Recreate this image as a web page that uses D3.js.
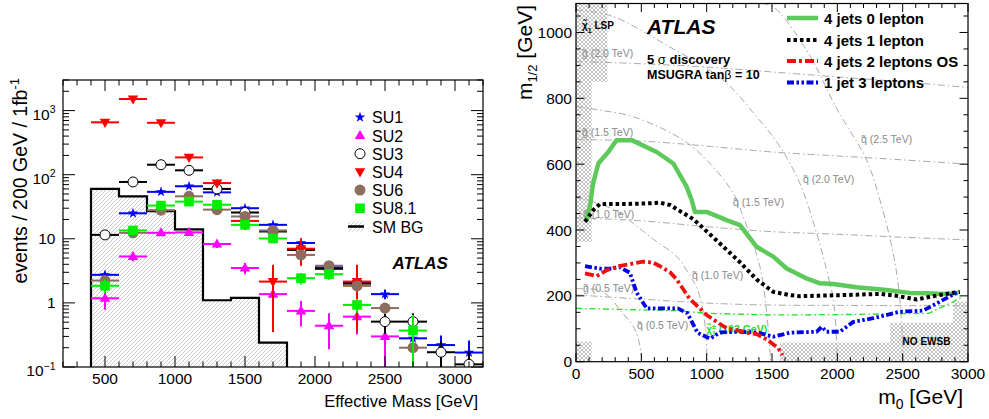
<!DOCTYPE html>
<html><head><meta charset="utf-8">
<script src="https://cdn.jsdelivr.net/npm/d3@7"></script>
<style>body{margin:0;background:#fff} svg{display:block} text{font-family:"Liberation Sans",Arial,Helvetica,sans-serif}</style>
</head><body><svg id="c" width="989" height="419"></svg>
<script>
// ---------------- Left panel data ----------------
const binCenters = [500,700,900,1100,1300,1500,1700,1900,2100,2300,2500,2700,2900,3100];
const bgEdges  = [400,600,800,1000,1200,1400,1600,1800];
const bgValues = [60,46,27,14,1.1,1.2,0.24];
const su1    = [2.74,25,54,66,53,30,16.5,8.6,3.6,2.1,1.37,0.28,0.22,0.168];
const su1Err = [0.33,1.0,1.5,1.6,1.5,1.1,0.8,0.6,0.4,0.3,0.23,0.11,0.09,0.09];
const su2    = [1.18,5.3,12.4,12.6,8.3,3.5,1.37,0.75,0.44,0.61,0.30,null,null,null];
const su2Err = [0.4,0.85,1.3,1.3,1.1,0.7,0.43,0.32,0.25,0.29,0.22,null,null,null];
const su3    = [11.5,77,143,117,60,25.7,13,6.7,3.4,2.0,0.51,0.51,0.17,0.11];
const su3Err = [0.85,2.2,3,2.7,1.9,1.3,0.9,0.65,0.46,0.35,0.18,0.18,0.08,0.07];
const su4    = [656,1516,645,186,74,19,2.15,7,null,2.15,null,null,null,null];
const su4Err = [31,48,31,17,10.5,5.3,1.8,3.2,null,1.8,null,null,null,null];
const su6    = [2.23,12.4,28,46,28.5,22.3,13.5,5.6,3.8,1.84,0.83,0.2,null,null];
const su6Err = [0.26,0.6,0.9,1.2,0.9,0.8,0.6,0.4,0.34,0.24,0.16,0.08,null,null];
const su81   = [1.85,13.5,33,38,34,16.5,10.1,2.43,2.8,0.93,null,0.37,null,null];
const su81Err= [0.45,1.1,1.7,1.8,1.7,1.2,0.95,0.5,0.5,0.22,null,0.28,null,null];
const seriesNames = ["SU1","SU2","SU3","SU4","SU6","SU8.1"];
const leftXTicks = [500,1000,1500,2000,2500,3000];
const leftYTicks = [0.1,1,10,100,1000];

// ---------------- Right panel data (m0, m1/2) ----------------
const curve0lep = [[77,425],[110,480],[130,540],[171,602],[247,637],[311,673],[426,673],[617,637],[745,602],[847,531],[885,491],[910,455],[1000,455],[1153,430],[1255,415],[1382,349],[1510,319],[1612,283],[1765,253],[1867,238],[1969,236],[2148,226],[2377,218],[2555,209],[2683,208],[2836,206],[2925,209]];
const curve1lep = [[69,425],[133,461],[184,479],[388,479],[560,481],[643,483],[719,476],[898,433],[1077,368],[1255,302],[1382,250],[1510,212],[1625,203],[1714,199],[2020,202],[2326,206],[2454,200],[2607,189],[2734,199],[2862,208],[2938,212]];
const curve2lep = [[69,268],[158,260],[235,278],[337,291],[515,304],[591,301],[643,290],[719,272],[770,250],[872,190],[1000,142],[1153,101],[1255,94],[1306,88],[1382,84],[1459,68],[1548,41],[1580,20]];
const curve3lep = [[69,290],[184,283],[260,283],[337,287],[413,270],[464,210],[541,162],[780,162],[853,147],[930,88],[1025,70],[1102,89],[1255,91],[1382,89],[1510,76],[1637,88],[1842,91],[1880,106],[1918,91],[2020,91],[2122,121],[2275,132],[2479,152],[2657,155],[2760,177],[2862,199],[2925,212]];
const charginoLine = [[0,162],[770,155],[1000,147],[1500,142],[2000,143],[2700,147],[2887,182],[2950,196]];
const gluino05 = [[0,203],[500,190],[1000,178],[1500,172],[2000,171],[3000,170]];
const gluino10 = [[0,437],[500,428],[1000,410],[1500,395],[2000,387],[2500,378],[3000,370]];
const gluino15 = [[0,675],[500,670],[1000,655],[1500,637],[2000,625],[2500,613],[3000,600]];
const gluino20 = [[0,912],[500,905],[1000,895],[1500,880],[2000,865],[2500,850],[3000,833]];
const squark05 = [[0,222],[100,221],[184,217],[260,195],[337,157],[439,106],[480,65],[505,0]];
const squark10 = [[0,500],[133,485],[300,460],[439,420],[591,372],[770,320],[870,262],[924,225],[970,160],[995,80],[1002,0]];
const squark15 = [[0,775],[184,764],[439,744],[821,673],[1025,602],[1204,511],[1280,440],[1408,288],[1459,150],[1490,0]];
const squark20 = [[0,1068],[260,1052],[700,960],[1127,855],[1382,744],[1561,653],[1714,541],[1842,390],[1918,278],[1969,190],[1994,66],[2000,0]];
const squark25 = [[1420,1088],[1510,1078],[1765,946],[1994,770],[2224,612],[2326,491],[2428,329],[2470,220],[2495,100],[2505,0]];
const lspRegion = [[0,1088],[240,1088],[240,850],[120,850],[120,364],[0,364]];
const lspLow    = [[0,0],[120,0],[120,61],[0,61]];
const ewsbRegion= [[1561,0],[1561,58],[2403,58],[2403,118],[2887,118],[2887,182],[3000,182],[3000,0]];
const contourNames = ["4 jets 0 lepton","4 jets 1 lepton","4 jets 2 leptons OS","1 jet 3 leptons"];
const rightXTicks = [0,500,1000,1500,2000,2500,3000];
const rightYTicks = [0,200,400,600,800,1000];

// ---------------- drawing ----------------
const svg = d3.select("#c");
const defs = svg.append("defs");
const p1 = defs.append("pattern").attr("id","hatchBG").attr("patternUnits","userSpaceOnUse").attr("width",4).attr("height",4);
p1.append("rect").attr("width",4).attr("height",4).attr("fill","#fff");
p1.append("path").attr("d","M-1,1 l2,-2 M0,4 l4,-4 M3,5 l2,-2").attr("stroke","#b4b4b4").attr("stroke-width",0.7);
const p2 = defs.append("pattern").attr("id","xhatch").attr("patternUnits","userSpaceOnUse").attr("width",4).attr("height",4);
p2.append("rect").attr("width",4).attr("height",4).attr("fill","#fff");
p2.append("path").attr("d","M0,0 L4,4 M4,0 L0,4").attr("stroke","#a8a8a8").attr("stroke-width",0.7);

// ===== LEFT =====
const L = {x0:63,x1:483,y0:80,y1:367};
const xL = d3.scaleLinear().domain([200,3200]).range([L.x0,L.x1]);
const yL = d3.scaleLog().domain([0.1,3000]).range([L.y1,L.y0]);
defs.append("clipPath").attr("id","clipL").append("rect").attr("x",L.x0).attr("y",L.y0).attr("width",L.x1-L.x0).attr("height",L.y1-L.y0);
const gL = svg.append("g").attr("clip-path","url(#clipL)");

// histogram
let hp = [[bgEdges[0],0.1]];
bgValues.forEach((v,i)=>{hp.push([bgEdges[i],v]);hp.push([bgEdges[i+1],v]);});
hp.push([bgEdges[bgEdges.length-1],0.1]);
const histLine = d3.line().x(d=>xL(d[0])).y(d=>yL(d[1]));
gL.append("path").attr("d",histLine(hp)+"Z").attr("fill","url(#hatchBG)").attr("stroke","none");
gL.append("path").attr("d",histLine(hp)).attr("fill","none").attr("stroke","#000").attr("stroke-width",2.2);

const series = [
  {name:"SU1",vals:su1,err:su1Err,color:"#0000ff",shape:"star"},
  {name:"SU2",vals:su2,err:su2Err,color:"#ff00ff",shape:"tri"},
  {name:"SU3",vals:su3,err:su3Err,color:"#000000",shape:"open"},
  {name:"SU4",vals:su4,err:su4Err,color:"#ff0000",shape:"itri"},
  {name:"SU6",vals:su6,err:su6Err,color:"#8c6e5f",shape:"circle"},
  {name:"SU8.1",vals:su81,err:su81Err,color:"#00ee00",shape:"square"}
];
function marker(g,s,x,y){
  if(s.shape==="star") g.append("path").attr("d",d3.symbol(d3.symbolStar,34)()).attr("transform",`translate(${x},${y})`).attr("fill",s.color);
  else if(s.shape==="tri") g.append("path").attr("d",d3.symbol(d3.symbolTriangle,48)()).attr("transform",`translate(${x},${y+0.5})`).attr("fill",s.color);
  else if(s.shape==="itri") g.append("path").attr("d",d3.symbol(d3.symbolTriangle,48)()).attr("transform",`translate(${x},${y-0.5}) rotate(180)`).attr("fill",s.color);
  else if(s.shape==="open") g.append("circle").attr("cx",x).attr("cy",y).attr("r",5).attr("fill","#fff").attr("stroke","#000").attr("stroke-width",1);
  else if(s.shape==="circle") g.append("circle").attr("cx",x).attr("cy",y).attr("r",5.5).attr("fill",s.color);
  else if(s.shape==="square") g.append("rect").attr("x",x-4.8).attr("y",y-4.8).attr("width",9.6).attr("height",9.6).attr("fill",s.color);
}
series.forEach(s=>{
  const g = gL.append("g");
  binCenters.forEach((c,i)=>{
    const v = s.vals[i]; if(v==null) return;
    const e = s.err[i]||0;
    const y = yL(v);
    g.append("line").attr("x1",xL(c-100)).attr("x2",xL(c+100)).attr("y1",y).attr("y2",y).attr("stroke",s.color).attr("stroke-width",2);
    const lo = v-e>0.1? yL(v-e) : L.y1;
    g.append("line").attr("x1",xL(c)).attr("x2",xL(c)).attr("y1",lo).attr("y2",yL(v+e)).attr("stroke",s.color).attr("stroke-width",2);
    marker(g,s,xL(c),y);
  });
});

// frame & ticks
svg.append("rect").attr("x",L.x0).attr("y",L.y0).attr("width",L.x1-L.x0).attr("height",L.y1-L.y0).attr("fill","none").attr("stroke","#000").attr("stroke-width",1.2);
const tk = svg.append("g").attr("stroke","#000").attr("stroke-width",1);
d3.range(200,3201,100).forEach(v=>{
  const len = v%500===0?11:5.5, x = xL(v);
  tk.append("line").attr("x1",x).attr("x2",x).attr("y1",L.y1).attr("y2",L.y1-len);
  tk.append("line").attr("x1",x).attr("x2",x).attr("y1",L.y0).attr("y2",L.y0+len);
});
yL.ticks().forEach(v=>{
  const lg = Math.log10(v); const major = Math.abs(lg-Math.round(lg))<1e-6;
  const len = major?12:6, y=yL(v);
  tk.append("line").attr("x1",L.x0).attr("x2",L.x0+len).attr("y1",y).attr("y2",y);
  tk.append("line").attr("x1",L.x1).attr("x2",L.x1-len).attr("y1",y).attr("y2",y);
});
leftXTicks.forEach(v=>svg.append("text").attr("x",xL(v)).attr("y",383.5).attr("text-anchor","middle").attr("font-size",15.5).text(v));
leftYTicks.forEach(v=>{
  const y=yL(v);
  if(v===1||v===10){
    svg.append("text").attr("x",55.5).attr("y",y+5.5).attr("text-anchor","end").attr("font-size",15.5).text(String(v));
  } else {
    const ex = Math.round(Math.log10(v));
    const t = svg.append("text").attr("x",55.5).attr("y",y+9).attr("text-anchor","end").attr("font-size",15.5);
    t.append("tspan").text("10");
    t.append("tspan").attr("dy",-6.5).attr("font-size",10.5).text(String(ex).replace("-","\u2212"));
  }
});
svg.append("text").attr("x",478).attr("y",406.5).attr("text-anchor","end").attr("font-size",16.5).text("Effective Mass [GeV]");
const yt = svg.append("text").attr("transform","translate(26.5,78) rotate(-90)").attr("text-anchor","end").attr("font-size",19.5);
yt.append("tspan").text("events / 200 GeV / 1fb");
yt.append("tspan").attr("dy",-8).attr("font-size",13).text("-1");

// legend left
const legL = svg.append("g");
series.forEach((s,i)=>{
  const y = 117.3 + i*18.2;
  marker(legL,s,360,y);
  legL.append("text").attr("x",372).attr("y",y+6).attr("font-size",16).text(s.name);
});
{
  const y = 117.3 + 6*18.2;
  legL.append("rect").attr("x",348).attr("y",y-5).attr("width",16).attr("height",10).attr("fill","url(#hatchBG)");
  legL.append("line").attr("x1",348).attr("x2",364).attr("y1",y).attr("y2",y).attr("stroke","#000").attr("stroke-width",2.5);
  legL.append("text").attr("x",372).attr("y",y+6).attr("font-size",16).text("SM BG");
}
svg.append("text").attr("x",392.5).attr("y",268.5).attr("font-size",17).attr("font-weight","bold").attr("font-style","italic").text("ATLAS");

// ===== RIGHT =====
const R = {x0:576,x1:968,y0:3.5,y1:361.7};
const xR = d3.scaleLinear().domain([0,3000]).range([R.x0,R.x1]);
const yR = d3.scaleLinear().domain([0,1088]).range([R.y1,R.y0]);
defs.append("clipPath").attr("id","clipR").append("rect").attr("x",R.x0).attr("y",R.y0).attr("width",R.x1-R.x0).attr("height",R.y1-R.y0);
const gR = svg.append("g").attr("clip-path","url(#clipR)");
const lineR = d3.line().x(d=>xR(d[0])).y(d=>yR(d[1]));
const smoothR = d3.line().x(d=>xR(d[0])).y(d=>yR(d[1])).curve(d3.curveCatmullRom);
[lspRegion,lspLow,ewsbRegion].forEach(r=>gR.append("path").attr("d",lineR(r)+"Z").attr("fill","url(#xhatch)"));

[gluino05,gluino10,gluino15,gluino20,squark05,squark10,squark15,squark20,squark25].forEach(c=>
  gR.append("path").attr("d",smoothR(c)).attr("fill","none").attr("stroke","#a0a0a0").attr("stroke-width",0.9).attr("stroke-dasharray","7,3,1.5,3"));

const grayLabels = [
  {p:"g\u0303 (2.0 TeV)",x:582,y:57},{p:"g\u0303 (1.5 TeV)",x:582,y:136},{p:"g\u0303 (1.0 TeV)",x:583,y:218},{p:"g\u0303 (0.5 TeV)",x:583,y:292},
  {p:"q\u0303 (0.5 TeV)",x:637,y:329},{p:"q\u0303 (1.0 TeV)",x:692,y:279},{p:"q\u0303 (1.5 TeV)",x:733,y:205.5},{p:"q\u0303 (2.0 TeV)",x:803,y:183},{p:"q\u0303 (2.5 TeV)",x:861,y:143}
];
grayLabels.forEach(l=>gR.append("text").attr("x",l.x).attr("y",l.y).attr("font-size",10.5).attr("fill","#8a8a8a").text(l.p));

gR.append("path").attr("d",lineR(charginoLine)).attr("fill","none").attr("stroke","#22e022").attr("stroke-width",1.3).attr("stroke-dasharray","6,3,1.5,3");
const ch = gR.append("text").attr("x",706).attr("y",332.5).attr("font-size",10.5).attr("font-weight","bold").attr("fill","#22dd22");
ch.append("tspan").text("\u03C7\u0303");
ch.append("tspan").attr("dy",-4).attr("font-size",7).text("\u00B1");
ch.append("tspan").attr("dx",-4).attr("dy",7).attr("font-size",7).text("1");
ch.append("tspan").attr("dy",-3).text(" (103 GeV)");

const styles = [
  {c:curve0lep,color:"#5dc95a",w:4.5,dash:null},
  {c:curve1lep,color:"#000000",w:4,dash:"3.5,3"},
  {c:curve3lep,color:"#0000ee",w:3.8,dash:"7,2.5,2.5,2.5,2.5,2.5"},
  {c:curve2lep,color:"#ee1111",w:3.8,dash:"9,3,3,3"}
];
styles.forEach(s=>{
  const p = gR.append("path").attr("d",lineR(s.c)).attr("fill","none").attr("stroke",s.color).attr("stroke-width",s.w).attr("stroke-linejoin","round");
  if(s.dash) p.attr("stroke-dasharray",s.dash);
});

// texts right
const lsp = svg.append("text").attr("x",582).attr("y",29).attr("font-size",10).attr("font-weight","bold");
lsp.append("tspan").text("\u03C7\u0303");
lsp.append("tspan").attr("dy",4).attr("font-size",7).text("1");
lsp.append("tspan").attr("dy",-4).text(" LSP");
svg.append("text").attr("x",926.5).attr("y",345).attr("text-anchor","middle").attr("font-size",10).attr("font-weight","bold").text("NO EWSB");
svg.append("text").attr("x",647).attr("y",33.5).attr("font-size",21).attr("font-weight","bold").attr("font-style","italic").text("ATLAS");
const s5 = svg.append("text").attr("x",647).attr("y",63.5).attr("font-size",13).attr("font-weight","bold");
s5.append("tspan").text("5 ");
s5.append("tspan").attr("font-weight","normal").text("\u03C3");
s5.append("tspan").text(" discovery");
const ms = svg.append("text").attr("x",647).attr("y",79).attr("font-size",12.5).attr("font-weight","bold");
ms.append("tspan").text("MSUGRA tan");
ms.append("tspan").attr("font-weight","normal").text("\u03B2");
ms.append("tspan").text(" = 10");

// legend right
const legStyles = [styles[0],styles[1],styles[3],styles[2]];
[18,40,61,82.5].forEach((y,i)=>{
  const s = legStyles[i];
  const l = svg.append("line").attr("x1",787).attr("x2",818).attr("y1",y).attr("y2",y).attr("stroke",s.color).attr("stroke-width",s.w);
  if(s.dash) l.attr("stroke-dasharray",s.dash);
  svg.append("text").attr("x",824).attr("y",y+5.5).attr("font-size",15).attr("font-weight","bold").text(contourNames[i]);
});

// frame and ticks right
svg.append("rect").attr("x",R.x0).attr("y",R.y0).attr("width",R.x1-R.x0).attr("height",R.y1-R.y0).attr("fill","none").attr("stroke","#000").attr("stroke-width",1.2);
const tr = svg.append("g").attr("stroke","#000").attr("stroke-width",1);
d3.range(0,3001,100).forEach(v=>{
  const len = v%500===0?8.5:4.5, x = xR(v);
  tr.append("line").attr("x1",x).attr("x2",x).attr("y1",R.y1).attr("y2",R.y1-len);
  tr.append("line").attr("x1",x).attr("x2",x).attr("y1",R.y0).attr("y2",R.y0+len);
});
d3.range(0,1088,50).forEach(v=>{
  const len = v%200===0?8.5:4.5, y = yR(v);
  tr.append("line").attr("x1",R.x0).attr("x2",R.x0+len).attr("y1",y).attr("y2",y);
  tr.append("line").attr("x1",R.x1).attr("x2",R.x1-len).attr("y1",y).attr("y2",y);
});
rightXTicks.forEach(v=>svg.append("text").attr("x",xR(v)).attr("y",378.5).attr("text-anchor","middle").attr("font-size",15.5).text(v));
rightYTicks.forEach(v=>svg.append("text").attr("x",572).attr("y",yR(v)+5.5).attr("text-anchor","end").attr("font-size",15.5).text(v));
const xt = svg.append("text").attr("x",963).attr("y",403.5).attr("text-anchor","end").attr("font-size",21);
xt.append("tspan").text("m");
xt.append("tspan").attr("dy",5).attr("font-size",14).text("0");
xt.append("tspan").attr("dy",-5).text(" [GeV]");
const yt2 = svg.append("text").attr("transform","translate(532,5) rotate(-90)").attr("text-anchor","end").attr("font-size",21);
yt2.append("tspan").text("m");
yt2.append("tspan").attr("dy",5).attr("font-size",13).text("1/2");
yt2.append("tspan").attr("dy",-5).text(" [GeV]");
</script></body></html>
